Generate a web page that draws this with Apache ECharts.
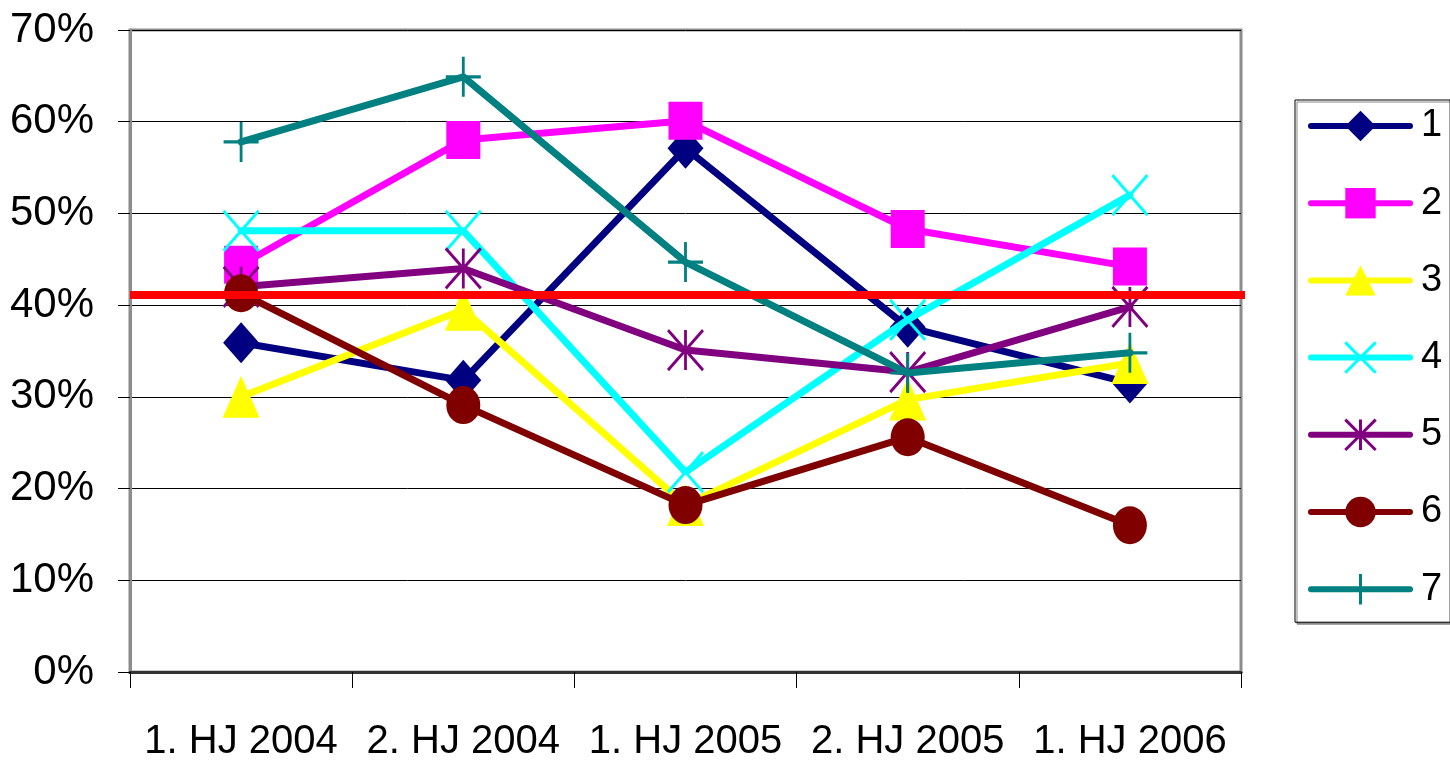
<!DOCTYPE html>
<html>
<head>
<meta charset="utf-8">
<style>
html,body{margin:0;padding:0;background:#fff;}
#chart{width:1450px;height:764px;}
</style>
<script src="https://cdn.jsdelivr.net/npm/echarts@6/dist/echarts.min.js"></script>
</head>
<body>
<div id="chart"></div>
<script>
// ---- data ----
const categories = ['1. HJ 2004', '2. HJ 2004', '1. HJ 2005', '2. HJ 2005', '1. HJ 2006'];
const seriesNames = ['1', '2', '3', '4', '5', '6', '7'];
const s1 = [35.9, 31.8, 57.1, 37.6, 31.5];
const s2 = [44.4, 58.0, 60.1, 48.3, 44.2];
const s3 = [30.0, 39.5, 18.2, 29.7, 33.7];
const s4 = [48.1, 48.1, 21.8, 38.4, 52.0];
const s5 = [42.0, 44.0, 35.1, 32.7, 39.8];
const s6 = [41.3, 29.1, 18.2, 25.6, 16.0];
const s7 = [57.8, 64.9, 44.7, 32.6, 34.8];
const referenceLevel = 41.1;
const yTicks = [0, 10, 20, 30, 40, 50, 60, 70];

// ---- styles ----
const colors = ['#000080', '#FF00FF', '#FFFF00', '#00FFFF', '#800080', '#800000', '#008080'];
const X_PATH = 'path://M0 0L10 10M10 0L0 10';
const AST_PATH = 'path://M0 0L10 10M10 0L0 10M5 0L5 10';
const PLUS_PATH = 'path://M0 5L10 5M5 0L5 10';
const symbols = ['diamond', 'rect', 'triangle', X_PATH, AST_PATH, 'circle', PLUS_PATH];
const sizes = [[36, 41], [34, 38], [37, 42], [35, 40], [35, 40], [34, 38], [35, 40]];
const stroked = [false, false, false, true, true, false, true];
const allData = [s1, s2, s3, s4, s5, s6, s7];
const FONT = '"Liberation Sans", Arial, sans-serif';

const series = allData.map((d, i) => ({
  name: seriesNames[i],
  type: 'line',
  xAxisIndex: 0,
  yAxisIndex: 0,
  data: d,
  symbol: symbols[i],
  symbolSize: sizes[i],
  showAllSymbol: true,
  z: 2 + i,
  lineStyle: { color: colors[i], width: 7, cap: 'round' },
  itemStyle: stroked[i]
    ? { color: 'rgba(0,0,0,0)', borderColor: colors[i], borderWidth: 3 }
    : { color: colors[i], borderWidth: 0 },
  emphasis: { disabled: true },
  animation: false
}));

series.push({
  name: 'ref',
  type: 'line',
  xAxisIndex: 1,
  yAxisIndex: 0,
  data: [[0, referenceLevel], [5.05, referenceLevel]],
  symbol: 'none',
  clip: false,
  z: 20,
  lineStyle: { color: '#FF0000', width: 8 },
  itemStyle: { color: '#FF0000' },
  emphasis: { disabled: true },
  animation: false
});

const chart = echarts.init(document.getElementById('chart'), null, { renderer: 'canvas' });
chart.setOption({
  animation: false,
  backgroundColor: '#fff',
  grid: {
    left: 130, right: 209, top: 30, bottom: 92,
    show: true, borderColor: '#8c8c8c', borderWidth: 3, backgroundColor: '#fff'
  },
  legend: {
    data: seriesNames,
    orient: 'vertical',
    left: 1295,
    top: 100,
    itemWidth: 99,
    itemHeight: 38,
    itemGap: 39.2,
    padding: [7, 8, 14, 13],
    borderColor: '#000',
    borderWidth: 1,
    backgroundColor: '#fff',
    shadowColor: '#888',
    shadowOffsetX: 2,
    shadowOffsetY: 2,
    shadowBlur: 0,
    selectedMode: false,
    textStyle: { fontFamily: FONT, fontSize: 38, color: '#000', lineHeight: 38, padding: [0, 0, 0, 6] },
    lineStyle: { width: 6, cap: 'round' },
    itemStyle: { borderWidth: 3 }
  },
  xAxis: [{
    type: 'category',
    data: categories,
    boundaryGap: true,
    axisLine: { show: true, lineStyle: { color: '#333', width: 3 } },
    axisTick: { show: true, interval: 0, length: 16, alignWithLabel: false, lineStyle: { color: '#000', width: 1 } },
    axisLabel: { interval: 0, fontFamily: FONT, fontSize: 40, color: '#000', margin: 50 },
    splitLine: { show: false }
  }, {
    type: 'value',
    min: 0, max: 5,
    show: false,
    position: 'top'
  }],
  yAxis: [{
    type: 'value',
    min: yTicks[0],
    max: yTicks[yTicks.length - 1],
    interval: 10,
    axisLine: { show: true, lineStyle: { color: '#8c8c8c', width: 3 } },
    axisTick: { show: true, length: 12, inside: false, lineStyle: { color: '#000', width: 1 } },
    axisLabel: { fontFamily: FONT, fontSize: 42, color: '#000', margin: 36, formatter: '{value}%' },
    splitLine: { show: true, lineStyle: { color: '#000', width: 1 } }
  }],
  series: series
});
</script>
</body>
</html>
